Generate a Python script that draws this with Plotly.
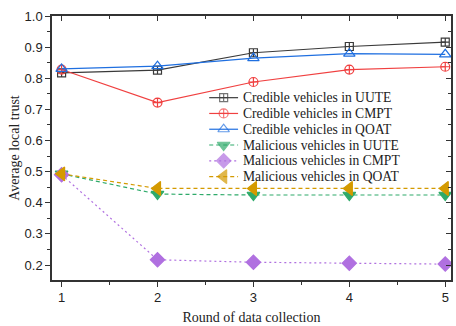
import plotly.graph_objects as go

rounds = [1, 2, 3, 4, 5]
cred_uute = [0.817, 0.826, 0.882, 0.902, 0.916]
cred_cmpt = [0.828, 0.722, 0.788, 0.828, 0.837]
cred_qoat = [0.830, 0.839, 0.865, 0.879, 0.877]
mal_uute = [0.493, 0.428, 0.425, 0.425, 0.425]
mal_cmpt = [0.490, 0.217, 0.209, 0.206, 0.203]
mal_qoat = [0.493, 0.446, 0.446, 0.446, 0.446]

names = ["Credible vehicles in UUTE", "Credible vehicles in CMPT", "Credible vehicles in QOAT",
         "Malicious vehicles in UUTE", "Malicious vehicles in CMPT", "Malicious vehicles in QOAT"]
series = [cred_uute, cred_cmpt, cred_qoat, mal_uute, mal_cmpt, mal_qoat]
colors = ["#3a3a3a", "#f04040", "#1f6fe0", "#2eaa6a", "#b070e0", "#d49a00"]
symbols = ["square-cross-open", "circle-cross-open", "triangle-up-open",
           "triangle-down", "diamond", "triangle-left"]
dashes = ["solid", "solid", "solid", "4px,3px", "2px,3px", "4px,3px"]
msizes = [8, 9, 10, 11, 11, 12]

# plot-area geometry in pixels (used only to place the hand-drawn legend)
L, R, T, B = 52, 453, 16, 282
def px(x):
    return (x - L) / (R - L)
def py(y):
    return (B - y) / (B - T)

fig = go.Figure()
for n, s, c, sym, d, ms in zip(names, series, colors, symbols, dashes, msizes):
    fig.add_trace(go.Scatter(
        x=rounds, y=s, name=n, mode="lines+markers", showlegend=False,
        line=dict(color=c, width=1.2, dash=d),
        marker=dict(symbol=sym, size=ms, color=c, line=dict(color=c, width=1.2)),
    ))

# compact legend (Origin-style spacing)
leg_top, leg_step = 98.3, 15.9
lx0, lxm, lx1, ltx = 210, 224.5, 239, 242
annotations = []
for i, (n, c, sym, d, ms) in enumerate(zip(names, colors, symbols, dashes, msizes)):
    yy = py(leg_top + i * leg_step)
    fig.add_trace(go.Scatter(
        x=[px(lx0), px(lxm), px(lx1)], y=[yy, yy, yy], xaxis="x3", yaxis="y3",
        mode="lines+markers", showlegend=False, hoverinfo="skip",
        line=dict(color=c, width=1.2, dash=d),
        marker=dict(symbol=sym, size=[0, ms, 0], color=c, line=dict(color=c, width=1.2)),
    ))
    annotations.append(dict(x=px(ltx), y=yy, xref="paper", yref="paper", text=n,
                            showarrow=False, xanchor="left", yanchor="middle",
                            font=dict(family="Liberation Serif, Times New Roman", size=13.6, color="#222")))

# dummy trace for mirrored inward ticks
fig.add_trace(go.Scatter(x=[1], y=[0.5], xaxis="x2", yaxis="y2", showlegend=False,
                         mode="markers", marker=dict(opacity=0), hoverinfo="skip"))

axis_font = dict(family="Liberation Sans, Arial", size=13, color="#222")
title_font = dict(family="Liberation Serif, Times New Roman", size=14, color="#222")

fig.update_layout(
    width=456, height=326,
    margin=dict(l=L, r=456 - R, t=T, b=326 - B),
    paper_bgcolor="white", plot_bgcolor="white",
    showlegend=False,
    annotations=annotations,
    xaxis=dict(range=[0.9, 5.06], tickvals=rounds, ticks="outside", ticklen=5,
               tickcolor="#333", showline=True, linecolor="#333", linewidth=1.5,
               mirror=True, showgrid=False, zeroline=False, tickfont=axis_font,
               minor=dict(dtick=0.5, tick0=0.5, ticks="outside", ticklen=3, tickcolor="#333"),
               title=dict(text="Round of data collection", font=title_font, standoff=8)),
    yaxis=dict(range=[0.152, 1.0], dtick=0.1, tick0=0, tickformat=".1f", ticks="outside", ticklen=5,
               tickcolor="#333", showline=True, linecolor="#333", linewidth=1.5,
               mirror=True, showgrid=False, zeroline=False, tickfont=axis_font,
               minor=dict(dtick=0.05, tick0=0.05, ticks="outside", ticklen=3, tickcolor="#333"),
               title=dict(text="Average local trust", font=title_font, standoff=2)),
    xaxis2=dict(range=[0.9, 5.06], tickvals=rounds, overlaying="x", side="top", ticks="inside",
                ticklen=5, tickcolor="#333", showticklabels=False, showgrid=False, zeroline=False,
                minor=dict(dtick=0.5, tick0=0.5, ticks="inside", ticklen=3, tickcolor="#333")),
    yaxis2=dict(range=[0.152, 1.0], dtick=0.1, tick0=0, overlaying="y", side="right", ticks="inside",
                ticklen=5, tickcolor="#333", showticklabels=False, showgrid=False, zeroline=False,
                minor=dict(dtick=0.05, tick0=0.05, ticks="inside", ticklen=3, tickcolor="#333")),
    xaxis3=dict(range=[0, 1], overlaying="x", visible=False, fixedrange=True),
    yaxis3=dict(range=[0, 1], overlaying="y", visible=False, fixedrange=True),
)

fig.write_html("out.html")
